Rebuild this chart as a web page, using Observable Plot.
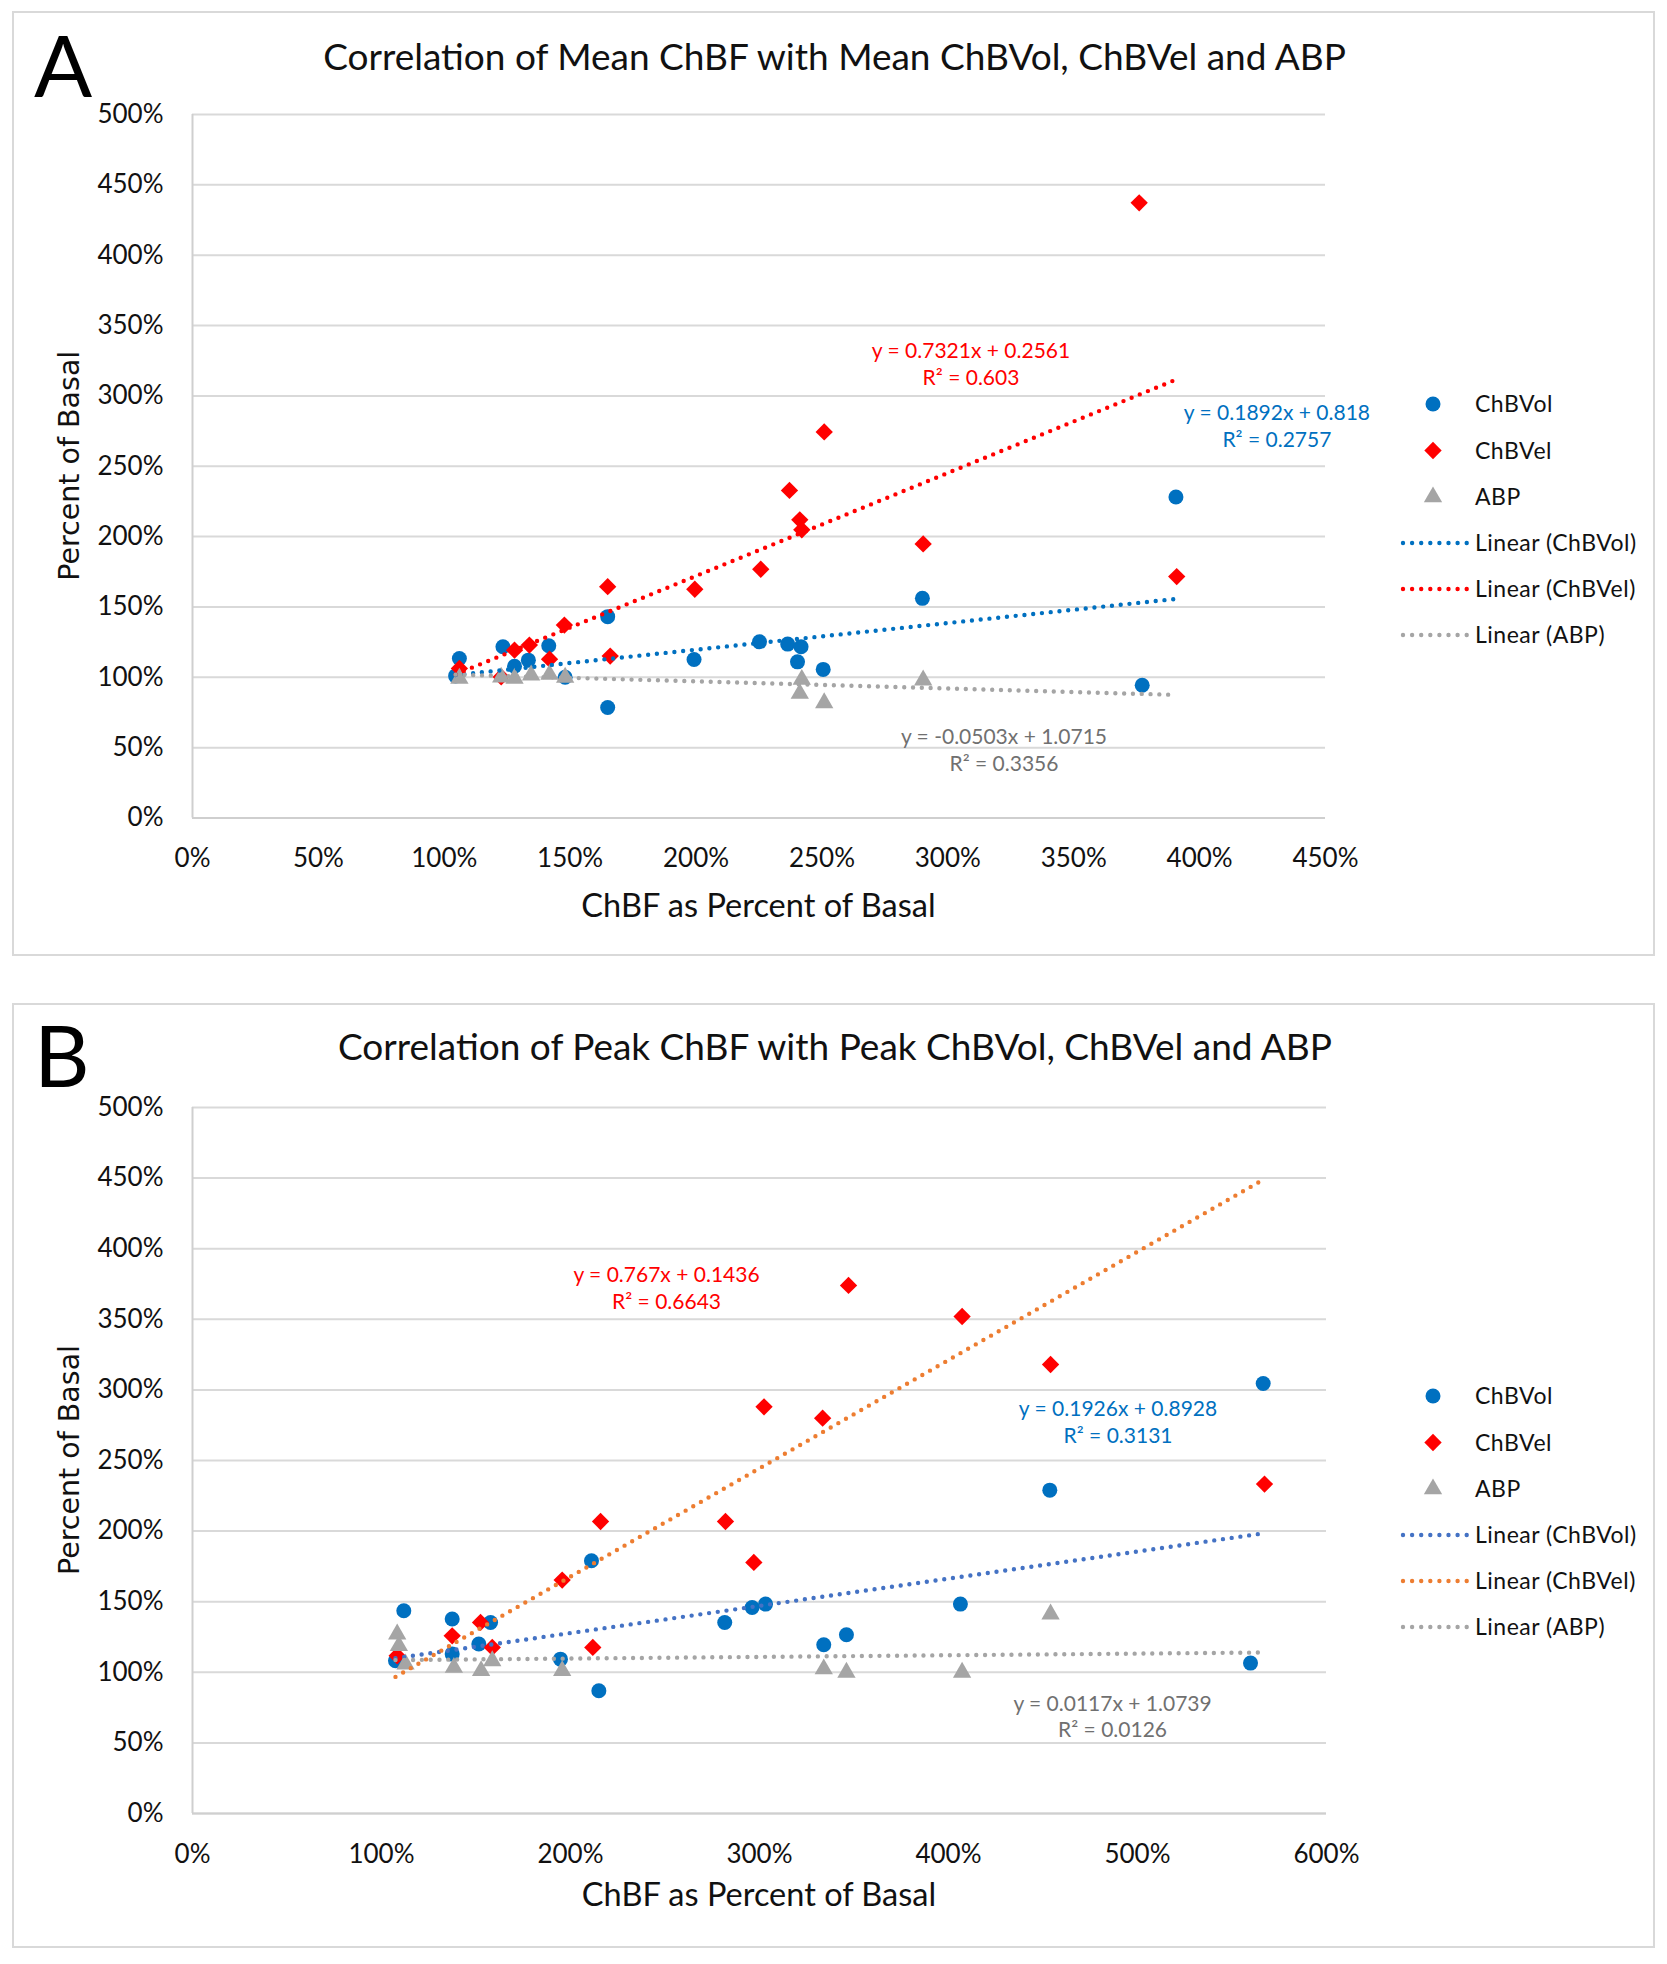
<!DOCTYPE html>
<html>
<head>
<meta charset="utf-8">
<script src="https://cdn.jsdelivr.net/npm/d3@7"></script>
<script src="https://cdn.jsdelivr.net/npm/@observablehq/plot@0.6"></script>
<style>
  html, body { margin: 0; padding: 0; background: #fff; }
  body { width: 1667px; height: 1964px; position: relative; font-family: Lato, sans-serif; }
  .panel { position: absolute; left: 12px; width: 1643px; height: 945px; box-shadow: inset 0 0 0 2px #d9d9d9; }
  .panel > svg { position: absolute; left: 0; top: 0; }
</style>
</head>
<body>
<script>
// ---------------- Panel A: Mean values (fractions of basal: 1 = 100%) ----------------
const aVolX = [1.060, 1.045, 1.233, 1.279, 1.334, 1.415, 1.480, 1.649, 1.649, 1.992, 2.252, 2.364, 2.417, 2.403, 2.505, 2.899, 3.772, 3.906];
const aVolY = [1.134, 1.010, 1.217, 1.079, 1.122, 1.224, 1.000, 1.431, 0.785, 1.127, 1.252, 1.236, 1.217, 1.110, 1.056, 1.561, 0.944, 2.281];
const aVelX = [1.060, 1.226, 1.279, 1.338, 1.418, 1.477, 1.649, 1.659, 1.995, 2.257, 2.371, 2.412, 2.420, 2.509, 2.902, 3.760, 3.909];
const aVelY = [1.063, 1.003, 1.193, 1.229, 1.129, 1.371, 1.644, 1.151, 1.626, 1.768, 2.328, 2.119, 2.048, 2.744, 1.948, 4.372, 1.716];
const aAbpX = [1.060, 1.226, 1.279, 1.345, 1.418, 1.480, 2.420, 2.412, 2.509, 2.902];
const aAbpY = [0.992, 1.000, 0.992, 1.015, 1.020, 0.999, 0.984, 0.885, 0.818, 0.980];
const aFitSlope = [0.1892, 0.7321, -0.0503];
const aFitIntercept = [0.818, 0.2561, 1.0715];
const aFitText = ["y = 0.1892x + 0.818\nR² = 0.2757", "y = 0.7321x + 0.2561\nR² = 0.603", "y = -0.0503x + 1.0715\nR² = 0.3356"];
const aXTicks = [0, 0.5, 1, 1.5, 2, 2.5, 3, 3.5, 4, 4.5];
const aTitle = "Correlation of Mean ChBF with Mean ChBVol, ChBVel and ABP";

// ---------------- Panel B: Peak values ----------------
const bVolX = [1.118, 1.074, 1.374, 1.374, 1.577, 1.515, 1.947, 2.111, 2.150, 2.816, 2.961, 3.032, 3.340, 3.460, 4.063, 4.536, 5.665, 5.598];
const bVolY = [1.436, 1.082, 1.377, 1.129, 1.353, 1.200, 1.093, 1.790, 0.869, 1.353, 1.459, 1.483, 1.195, 1.266, 1.483, 2.290, 3.045, 1.065];
const bVelX = [1.083, 1.374, 1.524, 1.586, 1.956, 2.118, 2.159, 2.820, 2.970, 3.024, 3.334, 3.471, 4.072, 4.540, 5.672];
const bVelY = [1.117, 1.258, 1.353, 1.176, 1.653, 1.176, 2.068, 2.068, 1.778, 2.880, 2.800, 3.740, 3.520, 3.180, 2.333];
const bAbpX = [1.083, 1.092, 1.127, 1.383, 1.527, 1.586, 1.956, 3.340, 3.460, 4.072, 4.540];
const bAbpY = [1.270, 1.188, 1.058, 1.034, 1.011, 1.081, 1.011, 1.023, 0.999, 0.999, 1.412];
const bFitSlope = [0.1926, 0.767, 0.0117];
const bFitIntercept = [0.8928, 0.1436, 1.0739];
const bFitText = ["y = 0.1926x + 0.8928\nR² = 0.3131", "y = 0.767x + 0.1436\nR² = 0.6643", "y = 0.0117x + 1.0739\nR² = 0.0126"];
const bXTicks = [0, 1, 2, 3, 4, 5, 6];
const bTitle = "Correlation of Peak ChBF with Peak ChBVol, ChBVel and ABP";

const yTicks = [0, 0.5, 1, 1.5, 2, 2.5, 3, 3.5, 4, 4.5, 5];
const seriesNames = ["ChBVol", "ChBVel", "ABP"];
const legendNames = ["ChBVol", "ChBVel", "ABP", "Linear (ChBVol)", "Linear (ChBVel)", "Linear (ABP)"];

const pct = d => `${Math.round(d * 100)}%`;
const toPoints = (xs, ys) => xs.map((x, i) => ({x, y: ys[i]}));

const symbols = ["circle", "diamond2", "triangle"];
const symbolR = [7.5, 7.8, 6.8];
const markerColors = ["#0070C0", "#FF0000", "#A5A5A5"];

function buildPanel(cfg) {
  const div = document.createElement("div");
  div.className = "panel";
  div.style.top = cfg.top + "px";
  document.body.appendChild(div);

  const series = [
    toPoints(cfg.volX, cfg.volY),
    toPoints(cfg.velX, cfg.velY),
    toPoints(cfg.abpX, cfg.abpY)
  ];
  const allX = [...cfg.volX, ...cfg.velX, ...cfg.abpX];
  const [x0, x1] = d3.extent(allX);
  const fits = cfg.slope.map((m, i) => [
    {x: x0, y: m * x0 + cfg.intercept[i]},
    {x: x1, y: m * x1 + cfg.intercept[i]}
  ]);
  const labels = cfg.fitText.map((t, i) => ({text: t, x: cfg.labelPos[i][0], y: cfg.labelPos[i][1], color: cfg.labelColors[i]}));

  const marks = [
    Plot.gridY(yTicks, {stroke: "#d9d9d9", strokeOpacity: 1, strokeWidth: 2}),
    Plot.ruleX([0], {stroke: "#cfcfcf", strokeWidth: 2}),
    Plot.ruleY([0], {stroke: "#cfcfcf", strokeWidth: 2}),
    Plot.axisY(yTicks, {tickSize: 0, tickPadding: 29, tickFormat: pct, fontSize: 26, label: null}),
    Plot.axisX(cfg.xTicks, {tickSize: 0, tickPadding: 31, tickFormat: pct, fontSize: 26, label: null}),
    ...series.map((pts, i) => Plot.dot(pts, {x: "x", y: "y", symbol: symbols[i], r: symbolR[i], fill: markerColors[i], stroke: "none"})),
    ...fits.map((pts, i) => Plot.line(pts, {x: "x", y: "y", stroke: cfg.trendColors[i], strokeWidth: 4.4, strokeDasharray: "0 8.8", strokeLinecap: "round"})),
    Plot.text(labels, {x: "x", y: "y", text: "text", fill: "color", fontSize: 21, lineHeight: 1.28, textAnchor: "middle", lineAnchor: "middle"})
  ];

  const svg = Plot.plot({
    width: 1643,
    height: 945,
    marginLeft: 180,
    marginRight: cfg.marginRight,
    marginTop: cfg.marginTop,
    marginBottom: cfg.marginBottom,
    x: {domain: cfg.xDomain},
    y: {domain: [0, 5]},
    style: {fontFamily: "Lato, sans-serif", background: "transparent", color: "#111", overflow: "visible"},
    marks
  });
  div.appendChild(svg);

  // Overlay: panel letter, title, axis titles, legend
  const W = 1643, H = 945;
  const plotL = 180, plotR = W - cfg.marginRight, plotT = cfg.marginTop, plotB = H - cfg.marginBottom;
  const ov = d3.create("svg").attr("width", W).attr("height", H)
    .style("font-family", "Lato, sans-serif").style("overflow", "visible");
  ov.append("text").attr("x", 22).attr("y", cfg.letterBase).attr("font-size", 86).attr("fill", "#000").text(cfg.letter);
  ov.append("text").attr("x", (plotL + plotR) / 2 + 76).attr("y", cfg.titleBase).attr("text-anchor", "middle")
    .attr("font-size", 37).attr("fill", "#111").text(cfg.title);
  ov.append("text").attr("x", (plotL + plotR) / 2).attr("y", cfg.xTitleBase).attr("text-anchor", "middle")
    .attr("font-size", 32.5).attr("fill", "#111").text("ChBF as Percent of Basal");
  ov.append("text").attr("transform", `translate(57,${(plotT + plotB) / 2}) rotate(-90)`)
    .attr("text-anchor", "middle").attr("dy", "0.36em").attr("font-family", "'DejaVu Sans', sans-serif")
    .attr("font-size", 28.5).attr("fill", "#111").text("Percent of Basal");

  const lg = ov.append("g");
  const rowY = [393, 439.5, 486, 532, 578, 624];
  legendNames.forEach((name, i) => {
    const y = rowY[i];
    if (i < 3) {
      const type = [d3.symbolCircle, d3.symbolDiamond2, d3.symbolTriangle][i];
      lg.append("path").attr("transform", `translate(1421,${y})`)
        .attr("d", d3.symbol().type(type).size(Math.PI * symbolR[i] * symbolR[i])()).attr("fill", markerColors[i]);
    } else {
      lg.append("line").attr("x1", 1391).attr("x2", 1455).attr("y1", y).attr("y2", y)
        .attr("stroke", cfg.trendColors[i - 3]).attr("stroke-width", 4.4).attr("stroke-dasharray", "0 9.1").attr("stroke-linecap", "round");
    }
    lg.append("text").attr("x", 1463).attr("y", y).attr("dy", "0.36em").attr("font-size", 23)
      .attr("letter-spacing", "0.5px").attr("fill", "#111").text(name);
  });
  div.appendChild(ov.node());
}

buildPanel({
  top: 11, letter: "A", title: aTitle, letterBase: 86, titleBase: 59, xTitleBase: 906,
  volX: aVolX, volY: aVolY, velX: aVelX, velY: aVelY, abpX: aAbpX, abpY: aAbpY,
  slope: aFitSlope, intercept: aFitIntercept, fitText: aFitText,
  labelPos: [[4.307, 2.795], [3.092, 3.233], [3.223, 0.491]],
  labelColors: ["#0070C0", "#FF0000", "#707070"],
  trendColors: ["#0070C0", "#FF0000", "#A5A5A5"],
  xTicks: aXTicks, xDomain: [0, 4.5], marginRight: 330, marginTop: 103, marginBottom: 138.5
});

buildPanel({
  top: 1003, letter: "B", title: bTitle, letterBase: 84, titleBase: 57, xTitleBase: 903,
  volX: bVolX, volY: bVolY, velX: bVelX, velY: bVelY, abpX: bAbpX, abpY: bAbpY,
  slope: bFitSlope, intercept: bFitIntercept, fitText: bFitText,
  labelPos: [[4.897, 2.781], [2.508, 3.730], [4.868, 0.695]],
  labelColors: ["#0070C0", "#FF0000", "#707070"],
  trendColors: ["#4472C4", "#ED7D31", "#A5A5A5"],
  xTicks: bXTicks, xDomain: [0, 6], marginRight: 329, marginTop: 104, marginBottom: 135
});
</script>
</body>
</html>
